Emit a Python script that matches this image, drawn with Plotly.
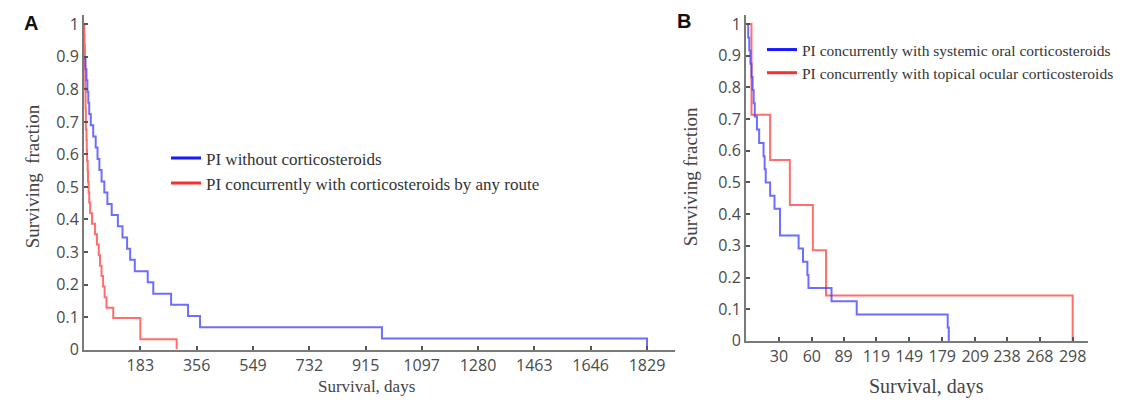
import plotly.graph_objects as go

# ---------------- Panel A data ----------------
a_blue_name = "PI without corticosteroids"
a_blue_days = [0, 5, 8, 11, 14, 17, 22, 30, 38, 44, 50, 57, 66, 76, 90, 110, 125, 140, 150, 165,
               207, 225, 283, 338, 377, 968, 1829]
a_blue_surv = [0.897, 0.862, 0.828, 0.793, 0.759, 0.724, 0.690, 0.655, 0.621, 0.586, 0.552, 0.517,
               0.483, 0.448, 0.414, 0.379, 0.345, 0.310, 0.276, 0.241, 0.207, 0.172, 0.138, 0.103,
               0.069, 0.034, 0.0]

a_red_name = "PI concurrently with corticosteroids by any route"
a_red_days = [0, 1, 2, 3, 4, 5, 6, 8, 9, 10, 12, 13, 15, 17, 20, 26, 36, 42, 48, 52, 57, 62,
              67, 73, 95, 183, 301]
a_red_surv = [1.0, 0.968, 0.935, 0.871, 0.806, 0.742, 0.677, 0.645, 0.613, 0.581, 0.548, 0.516,
              0.484, 0.452, 0.419, 0.387, 0.355, 0.323, 0.290, 0.258, 0.226, 0.194, 0.161, 0.129,
              0.097, 0.032, 0.0]

a_tick_vals = [183, 366, 549, 732, 915, 1097, 1280, 1463, 1646, 1829]
a_tick_text = ["183", "356", "549", "732", "915", "1097", "1280", "1463", "1646", "1829"]

# ---------------- Panel B data ----------------
b_blue_name = "PI concurrently with systemic oral corticosteroids"
b_blue_days = [0, 2, 3, 4, 5, 6, 7, 8, 10, 12, 16, 17, 18, 22, 26, 31, 48, 52, 56, 57, 78, 101,
               184, 185]
b_blue_surv = [1.0, 0.958, 0.917, 0.875, 0.833, 0.792, 0.750, 0.708, 0.667, 0.625, 0.583, 0.542,
               0.500, 0.458, 0.417, 0.333, 0.292, 0.250, 0.208, 0.167, 0.125, 0.083, 0.042, 0.0]

b_red_name = "PI concurrently with topical ocular corticosteroids"
b_red_days = [0, 5, 22, 40, 61, 73, 298]
b_red_surv = [1.0, 0.714, 0.571, 0.429, 0.286, 0.143, 0.0]

b_tick_vals = [30, 60, 89, 119, 149, 179, 209, 238, 268, 298]
b_tick_text = ["30", "60", "89", "119", "149", "179", "209", "238", "268", "298"]

y_tick_vals = [0, 0.1, 0.2, 0.3, 0.4, 0.5, 0.6, 0.7, 0.8, 0.9, 1]
y_tick_text = ["0", "0.1", "0.2", "0.3", "0.4", "0.5", "0.6", "0.7", "0.8", "0.9", "1"]

BLUE_LINE = "rgba(60,60,255,0.75)"
RED_LINE = "rgba(255,60,60,0.75)"
BLUE_LEG = "rgb(25,25,255)"
RED_LEG = "rgb(255,45,45)"
SERIF = "Liberation Serif, Times New Roman, serif"
SANS = "Open Sans, DejaVu Sans, sans-serif"

W, H = 1129, 409


def fx(px):
    return px / W


def fy(py):
    return 1 - py / H


fig = go.Figure()

# Panel A curves (draw red first so blue overlaps)
fig.add_trace(go.Scatter(x=a_red_days, y=a_red_surv, mode="lines", line=dict(color=RED_LINE, width=2, shape="hv"),
                         showlegend=False, xaxis="x", yaxis="y"))
fig.add_trace(go.Scatter(x=a_blue_days, y=a_blue_surv, mode="lines", line=dict(color=BLUE_LINE, width=2, shape="hv"),
                         showlegend=False, xaxis="x", yaxis="y"))
fig.add_trace(go.Scatter(x=[None], y=[None], mode="lines", line=dict(color=BLUE_LEG, width=3),
                         name=a_blue_name, legend="legend", xaxis="x", yaxis="y"))
fig.add_trace(go.Scatter(x=[None], y=[None], mode="lines", line=dict(color=RED_LEG, width=3),
                         name=a_red_name, legend="legend", xaxis="x", yaxis="y"))

# Panel B curves
fig.add_trace(go.Scatter(x=b_red_days, y=b_red_surv, mode="lines", line=dict(color=RED_LINE, width=2, shape="hv"),
                         showlegend=False, xaxis="x2", yaxis="y2"))
fig.add_trace(go.Scatter(x=b_blue_days, y=b_blue_surv, mode="lines", line=dict(color=BLUE_LINE, width=2, shape="hv"),
                         showlegend=False, xaxis="x2", yaxis="y2"))
fig.add_trace(go.Scatter(x=[None], y=[None], mode="lines", line=dict(color=BLUE_LEG, width=3),
                         name=b_blue_name, legend="legend2", xaxis="x2", yaxis="y2"))
fig.add_trace(go.Scatter(x=[None], y=[None], mode="lines", line=dict(color=RED_LEG, width=3),
                         name=b_red_name, legend="legend2", xaxis="x2", yaxis="y2"))

axis_common = dict(showline=True, linecolor="#7a7a7a", linewidth=2, showgrid=False, zeroline=False,
                   ticks="inside", ticklen=4, tickwidth=1.5, tickcolor="#555",
                   tickfont=dict(family=SANS, size=16, color="#4a4a4a"))


def ann(text, x, y, size, family, color="#444", angle=0):
    return dict(text=text, x=fx(x), y=fy(y), xref="paper", yref="paper", showarrow=False,
                xanchor="center", yanchor="middle", textangle=angle,
                font=dict(family=family, size=size, color=color))


fig.update_layout(
    width=W, height=H,
    margin=dict(l=0, r=0, t=0, b=0),
    paper_bgcolor="white", plot_bgcolor="white",
    xaxis=dict(domain=[fx(84), fx(675)], range=[0, 1920], tickvals=a_tick_vals, ticktext=a_tick_text,
               anchor="y", **axis_common),
    yaxis=dict(domain=[fy(359), fy(13)], range=[0, 1.03], tickvals=y_tick_vals, ticktext=y_tick_text,
               anchor="x", **axis_common),
    xaxis2=dict(domain=[fx(746), fx(1088)], range=[0, 312], tickvals=b_tick_vals, ticktext=b_tick_text,
                anchor="y2", **axis_common),
    yaxis2=dict(domain=[fy(350), fy(13)], range=[0, 1.03], tickvals=y_tick_vals, ticktext=y_tick_text,
                anchor="x2", **axis_common),
    legend=dict(x=fx(166), y=fy(143), xanchor="left", yanchor="top", bgcolor="rgba(0,0,0,0)",
                font=dict(family=SERIF, size=17, color="#333"), tracegroupgap=0, itemwidth=30),
    legend2=dict(x=fx(762), y=fy(32), xanchor="left", yanchor="top", bgcolor="rgba(0,0,0,0)",
                 font=dict(family=SERIF, size=15.5, color="#333"), tracegroupgap=0, itemwidth=30),
    annotations=[
        ann("<b>A</b>", 31, 22, 20, "Liberation Sans, Arial, sans-serif", "#111"),
        ann("<b>B</b>", 684, 20, 20, "Liberation Sans, Arial, sans-serif", "#111"),
        ann("Surviving  fraction", 32, 180, 19, SERIF, angle=-90),
        ann("Survival, days", 366, 397, 17, SERIF),
        ann("Surviving fraction", 690, 181, 19, SERIF, angle=-90),
        ann("Survival, days", 926, 397, 20, SERIF),
    ],
)

fig.write_html("out.html", config={"displayModeBar": False},
               post_script="document.body.style.margin='0px';")
